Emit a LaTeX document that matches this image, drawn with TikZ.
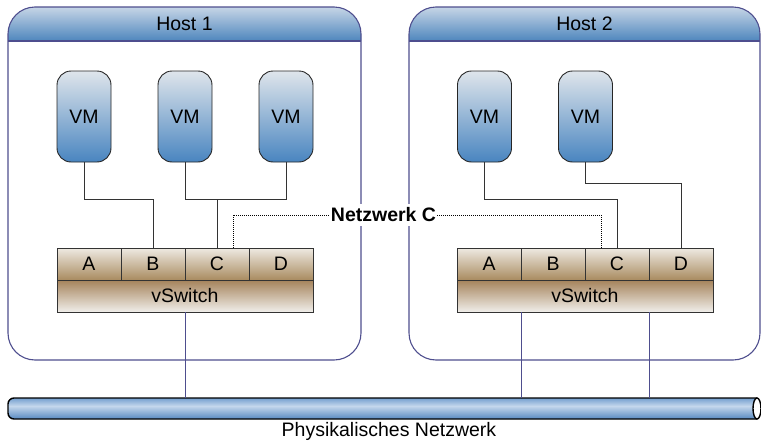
\documentclass[tikz,border=0pt]{standalone}
\usepackage{fontspec}
\setmainfont{Liberation Sans}
\definecolor{hostc}{HTML}{4E4E8E}
\definecolor{hdtop}{HTML}{C6D5E6}
\definecolor{hdbot}{HTML}{4E86BD}
\definecolor{vmtop}{HTML}{DFE5EB}
\definecolor{vmbot}{HTML}{4985C0}
\definecolor{porttop}{HTML}{EEEAE2}
\definecolor{portbot}{HTML}{A98B60}
\definecolor{vswtop}{HTML}{A5835B}
\definecolor{vswbot}{HTML}{F0EEEA}
\definecolor{bustop}{HTML}{6A98CB}
\definecolor{busmid}{HTML}{C4D7EC}
\definecolor{busbot}{HTML}{4F83BE}
\begin{document}
\begin{tikzpicture}[x=1pt,y=-1pt,
  font=\fontsize{19.5}{22}\selectfont,
  hostline/.style={draw=hostc, line width=1.1pt},
  hdfill/.style={top color=hdtop, bottom color=hdbot},
  vm/.style={draw=black!85, line width=0.9pt, rounded corners=14pt, minimum width=54pt, minimum height=91pt, inner sep=0pt, top color=vmtop, bottom color=vmbot},
  port/.style={draw=black!80, line width=0.9pt, minimum width=64pt, minimum height=32pt, inner sep=0pt, top color=porttop, bottom color=portbot},
  vsw/.style={draw=black!80, line width=0.9pt, minimum width=256pt, minimum height=32pt, inner sep=0pt, top color=vswtop, bottom color=vswbot},
  wire/.style={draw=black!80, line width=0.9pt},
  uplink/.style={draw=hostc, line width=0.9pt},
  dotwire/.style={draw=black, line width=1pt, dash pattern=on 1pt off 1pt},
  lbl/.style={inner sep=0pt}]
\useasboundingbox (0,0) rectangle (761,442);

% Host 1
\path[hdfill, rounded corners=27pt] (8,41) -- (8,7) -- (361,7) -- (361,41);
\draw[hostline, rounded corners=27pt] (8,7) rectangle (361,360);
\draw[hostline] (8,41) -- (361,41);
\node[lbl] (h1) at (184.5,24) {Host 1};

% Host 2
\path[hdfill, rounded corners=27pt] (409,41) -- (409,7) -- (760,7) -- (760,41);
\draw[hostline, rounded corners=27pt] (409,7) rectangle (760,360);
\draw[hostline] (409,41) -- (760,41);
\node[lbl] (h2) at (584.5,24) {Host 2};

% VMs
\node[vm] (vm11) at (84,116.5) {VM};
\node[vm] (vm12) at (185,116.5) {VM};
\node[vm] (vm13) at (286,116.5) {VM};
\node[vm] (vm21) at (484.5,116.5) {VM};
\node[vm] (vm22) at (585.5,116.5) {VM};

% Ports and vSwitches
\node[port] (p1a) at (89,264) {A};
\node[port] (p1b) at (153,264) {B};
\node[port] (p1c) at (217,264) {C};
\node[port] (p1d) at (281,264) {D};
\node[vsw] (vs1) at (185,296) {vSwitch};
\node[port] (p2a) at (489,264) {A};
\node[port] (p2b) at (553,264) {B};
\node[port] (p2c) at (617,264) {C};
\node[port] (p2d) at (681,264) {D};
\node[vsw] (vs2) at (585,296) {vSwitch};

% Bus
\node[minimum width=752pt, minimum height=21pt, inner sep=0pt] (bus) at (384,408.5) {};
\begin{scope}
  \clip[rounded corners=6pt] (757,398) -- (8,398) -- (8,419) -- (757,419);
  \path[top color=bustop, bottom color=busmid] (8,397) rectangle (757,406);
  \path[top color=busmid, bottom color=busbot] (8,406) rectangle (757,420);
\end{scope}
\draw[line width=1.4pt, rounded corners=6pt] (757,398) -- (8,398) -- (8,419) -- (757,419);
\draw[line width=1.4pt, fill=white] (757,408.5) ellipse [x radius=4pt, y radius=10.5pt];
\node[lbl] (busl) at (389,431) {Physikalisches Netzwerk};

% VM wiring
\draw[wire] (vm11.south) -- ++(0,37) -| (p1b.north);
\draw[wire] (vm12.south) -- ++(0,37) -| (vm13.south);
\draw[wire] (p1c.north) -- ++(0,-49);
\draw[wire] (vm21.south) -- ++(0,37) -| (p2c.north);
\draw[wire] (vm22.south) -- ++(0,21) -| (p2d.north);

% Uplinks
\draw[uplink] (vs1.south) -- (vs1.south |- bus.north);
\draw[uplink] (p2a.east |- vs2.south) -- (p2a.east |- bus.north);
\draw[uplink] (p2c.east |- vs2.south) -- (p2c.east |- bus.north);

% Netzwerk C
\node[fill=white, inner xsep=1pt, inner ysep=4pt, font=\fontsize{19.5}{22}\selectfont\bfseries] (nc) at (383.5,215) {Netzwerk C};
\draw[dotwire] ([xshift=16pt]p1c.north) |- (nc.west);
\draw[dotwire] (nc.east) -| ([xshift=-16pt]p2c.north);
\end{tikzpicture}
\end{document}
